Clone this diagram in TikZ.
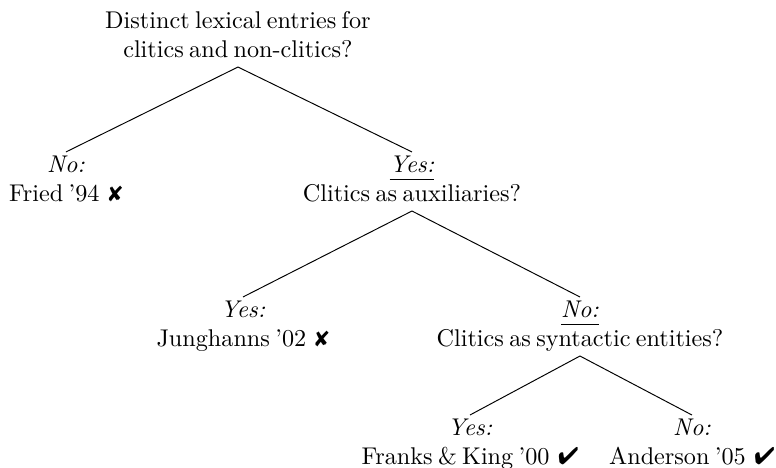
\documentclass[tikz,border=0pt]{standalone}
\usepackage{pifont}
\usetikzlibrary{positioning}
\newcommand{\cmark}{\hspace{1.3pt}\ding{52}}
\newcommand{\xmark}{\hspace{1.3pt}\scalebox{0.9}{\ding{56}}}
\newcommand{\branch}[2]{\begin{tabular}{@{}c@{}}#1\\#2\end{tabular}}
\newcommand{\ans}[1]{\underline{\textit{#1}\rule[-1.3pt]{0pt}{1pt}}}
\tikzset{answer/.style={inner sep=0pt, anchor=north, font={\spaceskip=2.2pt plus 1pt minus 0.5pt\relax}}}

\begin{document}
\begin{tikzpicture}
\useasboundingbox (0,0) rectangle (11.27,-6.796);

% Root question
\node[answer] (root) at (3.456,-0.116) {\branch{Distinct lexical entries for}{clitics and non-clitics?}};

% First split
\node[answer] (fried) at (0.958,-2.207) {\branch{\textit{No:}}{Fried '94 \xmark}};
\node[answer] (aux) at (5.983,-2.207) {\branch{\ans{Yes:}}{Clitics as auxiliaries?}};

% Second split
\node[answer] (jung) at (3.529,-4.313) {\branch{\textit{Yes:}}{Junghanns '02 \xmark}};
\node[answer] (synt) at (8.423,-4.313) {\branch{\ans{No:}}{Clitics as syntactic entities?}};

% Third split
\node[answer] (franks) at (6.826,-6.027) {\branch{\textit{Yes:}}{Franks \& King '00 \cmark}};
\node[answer] (anders) at (10.049,-6.027) {\branch{\textit{No:}}{Anderson '05 \cmark}};

% Edges
\draw (root.south) -- (fried.north);
\draw (root.south) -- (aux.north);
\draw (aux.south) -- (jung.north);
\draw (aux.south) -- (synt.north);
\draw (synt.south) -- (franks.north);
\draw (synt.south) -- (anders.north);
\end{tikzpicture}
\end{document}
